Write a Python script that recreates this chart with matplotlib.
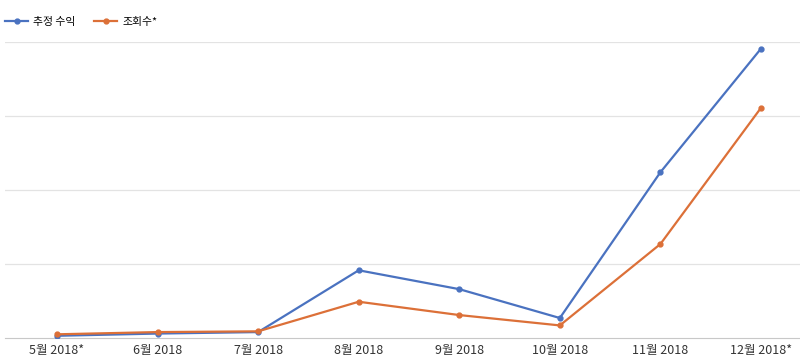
import matplotlib
matplotlib.use('Agg')
import matplotlib.pyplot as plt

plt.rcParams['font.family'] = ['Noto Sans CJK KR', 'DejaVu Sans']

months = ['5월 2018*', '6월 2018', '7월 2018', '8월 2018', '9월 2018',
          '10월 2018', '11월 2018', '12월 2018*']
revenue = [0.03, 0.06, 0.08, 0.915, 0.66, 0.27, 2.24, 3.91]
views = [0.05, 0.08, 0.09, 0.49, 0.31, 0.17, 1.27, 3.11]

blue = '#4a72c0'
orange = '#dc7038'

fig = plt.figure(figsize=(8, 3.58), dpi=100)
ax = fig.add_axes([5 / 800, 1 - 338 / 358, 795 / 800, (338 - 42) / 358])

x = list(range(len(months)))
ax.plot(x, revenue, color=blue, lw=1.6, marker='o', ms=3.5, label='추정 수익', zorder=3)
ax.plot(x, views, color=orange, lw=1.6, marker='o', ms=3.5, label='조회수*', zorder=3)

ax.set_ylim(0, 4)
ax.set_xlim(-0.517, 7.388)
ax.set_yticks([1, 2, 3, 4])
ax.yaxis.grid(True, color='#e3e3e3', lw=0.9)
ax.tick_params(axis='y', left=False, labelleft=False)
ax.set_xticks(x)
ax.set_xticklabels(months, fontsize=9, color='#333333')
ax.tick_params(axis='x', length=0, pad=4)
for s in ['top', 'right', 'left']:
    ax.spines[s].set_visible(False)
ax.spines['bottom'].set_color('#c8c8c8')
ax.set_axisbelow(True)

ax.legend(loc='upper left', bbox_to_anchor=(-0.003, 0.973), bbox_transform=fig.transFigure,
          ncol=2, frameon=False, fontsize=7.8, handlelength=2.1, handletextpad=0.5,
          columnspacing=1.7, borderaxespad=0.3)

fig.savefig('out.png', dpi=100)
